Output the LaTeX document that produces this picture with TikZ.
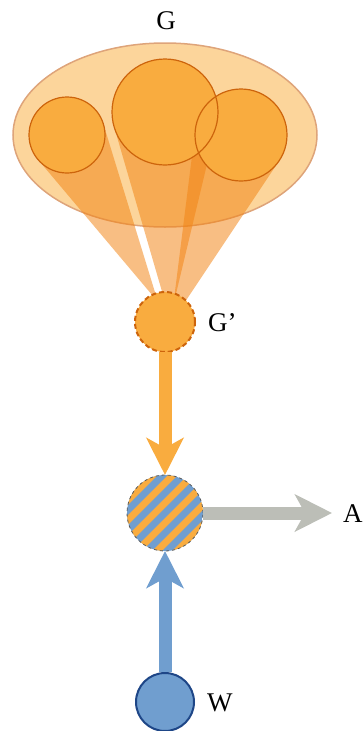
\documentclass[tikz,border=0pt]{standalone}
\usepackage{fontspec}
\setmainfont{Liberation Serif}
\usetikzlibrary{arrows.meta,calc,shapes.geometric}
\definecolor{gorange}{RGB}{249,172,63}
\definecolor{gedge}{RGB}{205,100,12}
\definecolor{ellfill}{RGB}{252,213,155}
\definecolor{elledge}{RGB}{222,164,122}
\definecolor{conecol}{RGB}{242,131,18}
\definecolor{wblue}{RGB}{112,158,207}
\definecolor{wedge}{RGB}{30,70,135}
\definecolor{agrey}{RGB}{188,190,183}
\begin{document}
\begin{tikzpicture}[x=1pt,y=-1pt,
  lbl/.style={font=\fontsize{27}{31}\selectfont,inner sep=0pt},
  ball/.style={circle,inner sep=0pt,outer sep=0pt,fill=gorange},
  cone/.style={fill=conecol,fill opacity=0.52},
  fat/.style={line width=13pt,-{Stealth[length=37pt,width=37pt,inset=10pt]}}]
\useasboundingbox (0,0) rectangle (363,731);
% group G
\node[ellipse,inner sep=0pt,minimum width=304pt,minimum height=184pt,
  fill=ellfill,draw=elledge,line width=1.5pt] (grp) at (165,135) {};
\node[lbl] (lG) at (166,21) {G};
\node[ball,minimum size=76pt] (c1) at (67,135) {};
\node[ball,minimum size=106pt] (c2) at (165,112) {};
\node[ball,minimum size=92pt] (c3) at (241,135) {};
\coordinate (p1) at (158,302);
\coordinate (p2) at (170,319);
\coordinate (p3) at (171,323);
\foreach \c/\p in {c1/p1,c2/p2,c3/p3}
  \fill[cone] (\p) -- (tangent cs:node=\c,point={(\p)},solution=1)
    -- (\c.center) -- (tangent cs:node=\c,point={(\p)},solution=2) -- cycle;
\foreach \c/\r in {c1/38,c2/53,c3/46} {
  \fill[gorange] (\c) circle[radius=\r];
}
\foreach \c/\r in {c1/38,c2/53,c3/46} {
  \draw[gedge,line width=1.2pt] (\c) circle[radius=\r];
}
% G'
\node[ball,minimum size=60pt,draw=gedge,line width=2pt,
  dash pattern=on 5pt off 3pt] (gp) at (165,322) {};
\node[lbl,anchor=west] (lGp) at (208,323) {G'};
% mixed node
\node[circle,inner sep=0pt,outer sep=0pt,minimum size=76pt,
  draw=black!65,line width=0.8pt,dashed,
  path picture={
    \fill[wblue] (path picture bounding box.south west)
      rectangle (path picture bounding box.north east);
    \foreach \i in {-4,...,3}
      \draw[solid,gorange,line width=6.8pt] (path picture bounding box.center)
        ++(\i*20+10-50,50) -- ++(100,-100);
  }] (mix) at (165,513) {};
% W
\node[circle,inner sep=0pt,minimum size=58pt,fill=wblue,draw=wedge,
  line width=2pt] (w) at (165,702) {};
\node[lbl,anchor=west] (lW) at (207,703) {W};
\node[lbl,anchor=west] (lA) at (343,514) {A};
\coordinate (aend) at (332,513);
% arrows
\draw[fat,gorange] (gp) -- (mix);
\draw[fat,wblue] (w) -- (mix);
\draw[fat,agrey] (mix) -- (aend);
\end{tikzpicture}
\end{document}
